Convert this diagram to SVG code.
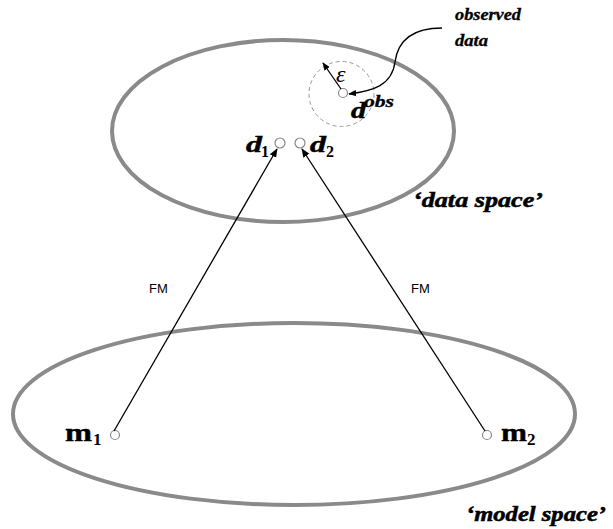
<svg xmlns="http://www.w3.org/2000/svg" width="613" height="529" viewBox="0 0 613 529">
<defs>
<marker id="ah" viewBox="0 0 10 10" refX="9" refY="5" markerWidth="9" markerHeight="9" markerUnits="userSpaceOnUse" orient="auto">
<path d="M0,1 L10,5 L0,9 Z" fill="#000"/>
</marker>
<marker id="ahs" viewBox="0 0 10 10" refX="9" refY="5" markerWidth="8" markerHeight="8" markerUnits="userSpaceOnUse" orient="auto">
<path d="M0,1 L10,5 L0,9 Z" fill="#000"/>
</marker>
</defs>
<style>
.space{fill:none;stroke:#8a8a8a;stroke-width:4}
.pt{fill:#fff;stroke:#888;stroke-width:1.2}
.lbl{font-family:"Liberation Serif",serif;font-weight:bold;font-style:italic;fill:#000;stroke:#000;stroke-width:0.5}
.sub{font-family:"Liberation Serif",serif;font-weight:bold;fill:#000}
.m{font-family:"Liberation Serif",serif;font-weight:bold;fill:#000;stroke:#000;stroke-width:0.4}
.fm{font-family:"Liberation Sans",Arial,sans-serif;font-size:13px;fill:#000}
.conn{stroke:#000;stroke-width:1.3;fill:none}
</style>
<g id="data-space">
<ellipse class="space" cx="283" cy="131" rx="171" ry="91"/>
<text class="lbl" x="413" y="207" font-size="20" textLength="130" lengthAdjust="spacingAndGlyphs">‘data space’</text>
</g>
<g id="model-space">
<ellipse class="space" cx="294" cy="414" rx="281" ry="91"/>
<text class="lbl" x="466" y="521" font-size="20" textLength="140" lengthAdjust="spacingAndGlyphs">‘model space’</text>
</g>
<g id="dobs">
<circle cx="341.5" cy="94" r="32.5" fill="none" stroke="#999" stroke-width="1" stroke-dasharray="4,3"/>
<circle class="pt" cx="343" cy="93" r="4.5"/>
<text class="lbl" x="351" y="118" font-size="23" textLength="15" lengthAdjust="spacingAndGlyphs">d</text>
<text class="lbl" x="364" y="107" font-size="17" textLength="30" lengthAdjust="spacingAndGlyphs" style="stroke-width:0.3">obs</text>
<text x="336" y="82" font-family="Liberation Serif,serif" font-style="italic" font-size="24" fill="#000">ε</text>
</g>
<g id="observed-label">
<text class="lbl" x="455" y="20" font-size="16" textLength="66" lengthAdjust="spacingAndGlyphs" style="stroke-width:0.3">observed</text>
<text class="lbl" x="455" y="46" font-size="16" textLength="33" lengthAdjust="spacingAndGlyphs" style="stroke-width:0.3">data</text>
</g>
<g id="d1">
<circle class="pt" cx="280" cy="143" r="5"/>
<text class="lbl" x="246" y="152" font-size="24" textLength="16" lengthAdjust="spacingAndGlyphs">d</text>
<text class="sub" x="261" y="157" font-size="16">1</text>
</g>
<g id="d2">
<circle class="pt" cx="300" cy="143" r="5"/>
<text class="lbl" x="310" y="152" font-size="24" textLength="16" lengthAdjust="spacingAndGlyphs">d</text>
<text class="sub" x="326" y="157" font-size="16">2</text>
</g>
<g id="m1">
<circle class="pt" cx="115" cy="435" r="4.5"/>
<text class="m" x="65" y="441" font-size="26" textLength="27" lengthAdjust="spacingAndGlyphs">m</text>
<text class="sub" x="93" y="445" font-size="17">1</text>
</g>
<g id="m2">
<circle class="pt" cx="487" cy="435" r="4.5"/>
<text class="m" x="501" y="441" font-size="26" textLength="26" lengthAdjust="spacingAndGlyphs">m</text>
<text class="sub" x="527" y="445" font-size="17">2</text>
</g>
<g id="connectors">
<line class="conn" x1="114" y1="431" x2="277" y2="149" marker-end="url(#ah)"/>
<line class="conn" x1="485" y1="431" x2="302" y2="149" marker-end="url(#ah)"/>
<text class="fm" x="149" y="293">FM</text>
<text class="fm" x="411" y="293">FM</text>
<line class="conn" x1="341" y1="89" x2="323" y2="63" marker-end="url(#ahs)"/>
<path class="conn" d="M442,28 C412,28 398,40 395,62 C392,86 372,91 349,94" marker-end="url(#ahs)"/>
</g>
</svg>
